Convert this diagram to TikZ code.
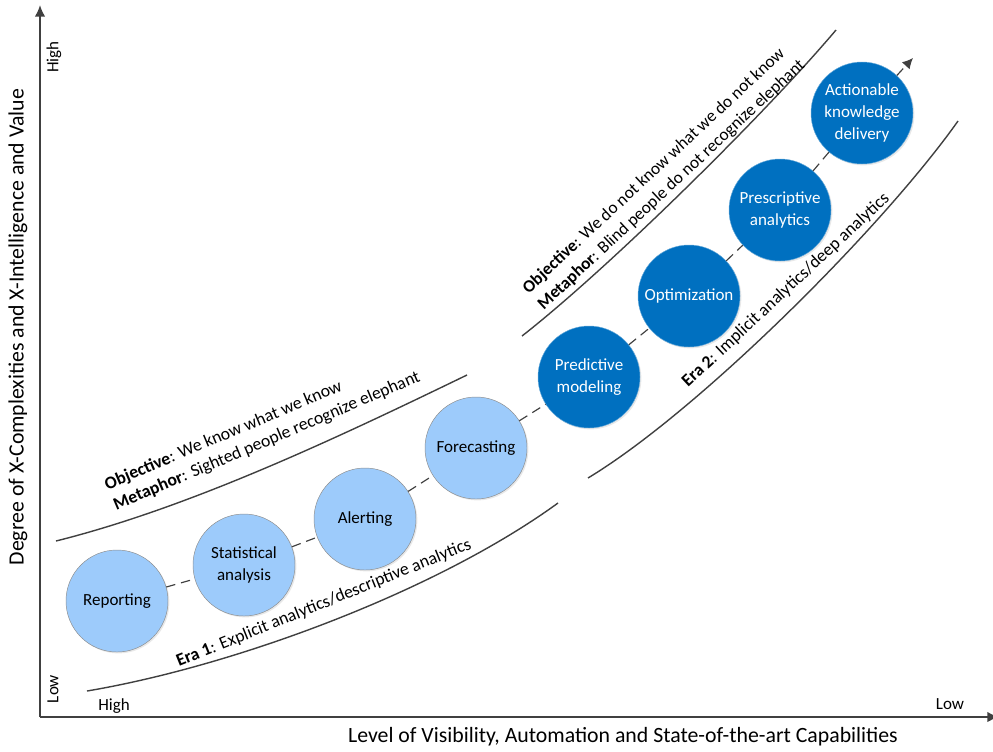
\documentclass[tikz,border=0pt]{standalone}
\usepackage{fontspec}
\setmainfont{Carlito}
\usepackage{xcolor}
\usepackage{tikz}
\usetikzlibrary{calc}
\usetikzlibrary{arrows.meta}
\usetikzlibrary{shadows}
\tikzset{>=Latex}
\definecolor{eraone}{HTML}{9DCBFB}
\definecolor{eratwo}{HTML}{0070C0}
\definecolor{linegray}{HTML}{404040}
\tikzstyle{txt} = [draw=none, inner sep = 0, font=\fontsize{14.5}{18.7}\selectfont]
\tikzstyle{bandtxt} = [txt, font=\fontsize{15.1}{18.9}\selectfont]
\tikzstyle{axistxt} = [txt, font=\fontsize{18.6}{22}\selectfont]
\tikzstyle{lightnode} = [circle, draw = gray!90, fill = eraone, minimum size = 3.06cm, inner sep = 1, align = center, font=\fontsize{14.5}{18.5}\selectfont, drop shadow = {shadow xshift = 1.2pt, shadow yshift = -1.2pt, opacity = 0.18}]
\tikzstyle{darknode} = [lightnode, draw = eratwo!60!white, fill = eratwo, text = white]
\tikzstyle{band} = [draw = linegray, line width = 1.2pt]
\tikzstyle{link} = [draw = linegray, line width = 1pt, dash pattern = on 8pt off 5pt]
\tikzstyle{axis} = [draw = linegray, line width = 1.5pt]

\begin{document}
\begin{tikzpicture}[x=0.03cm, y=-0.03cm]
\useasboundingbox (0,0) rectangle (993,751);
% axes
\coordinate (O) at (40,717);
\coordinate (ytop) at (40,5);
\coordinate (xend) at (999,717);
\draw [axis, -{Latex[length=10pt, width=9pt]}] (O) to (ytop);
\draw [axis, -{Latex[length=10pt, width=9pt]}] (O) to (xend);
\node [txt, rotate = 90] (yhigh) at (54,57) {High};
\node [txt, rotate = 90] (ylow) at (53,689) {Low};
\node [txt] (xhigh) at (114,706) {High};
\node [txt] (xlow) at (950,704) {Low};
\node [axistxt] (xlabel) at (623,737) {Level of Visibility, Automation and State-of-the-art Capabilities};
\node [axistxt, rotate = 90] (ylabel) at (18,327) {Degree of X-Complexities and X-Intelligence and Value};

% bands
\draw [band] (56,541) .. controls (192,507) and (341,436) .. (467,375);
\draw [band] (87,691) .. controls (235,666) and (437,591) .. (558,503);
\draw [band] (522,336) .. controls (609,268) and (765,114) .. (836,30);
\draw [band] (588,478) .. controls (699,411) and (883,227) .. (958,121);

% band texts
\node [bandtxt, rotate = 23, anchor = west, align = left] (obj1) at (110,496) {\textbf{Objective}: We know what we know\\\textbf{Metaphor}: Sighted people recognize elephant};
\node [bandtxt, font=\fontsize{14.8}{18.9}\selectfont, rotate = 43, anchor = west, align = left] (obj2) at (533,299) {\textbf{Objective}: We do not know what we do not know\\\textbf{Metaphor}: Blind people do not recognize elephant};
\node [bandtxt, rotate = 22, anchor = base west] (era1) at (179,667) {\textbf{Era 1}: Explicit analytics/descriptive analytics};
\node [bandtxt, rotate = 43, anchor = base west] (era2) at (688,388) {\textbf{Era 2}: Implicit analytics/deep analytics};

% steps
\node [lightnode] (rep) at (117,601) {Reporting};
\node [lightnode] (stat) at (244,565) {Statistical\\analysis};
\node [lightnode] (alert) at (365,519) {Alerting};
\node [lightnode] (fore) at (476,448) {Forecasting};
\node [darknode] (pred) at (589,377) {Predictive\\modeling};
\node [darknode] (optim) at (689,296) {Optimization};
\node [darknode] (presc) at (780,210) {Prescriptive\\analytics};
\node [darknode] (act) at (862,113) {Actionable\\knowledge\\delivery};
\coordinate (tip) at (913,58);

\draw [link] (rep) to (stat);
\draw [link] (stat) to (alert);
\draw [link] (alert) to (fore);
\draw [link] (fore) to (pred);
\draw [link] (pred) to (optim);
\draw [link] (optim) to (presc);
\draw [link] (presc) to (act);
\draw [link, -{Latex[length=9pt, width=9pt]}] (act) to (tip);
\end{tikzpicture}
\end{document}
